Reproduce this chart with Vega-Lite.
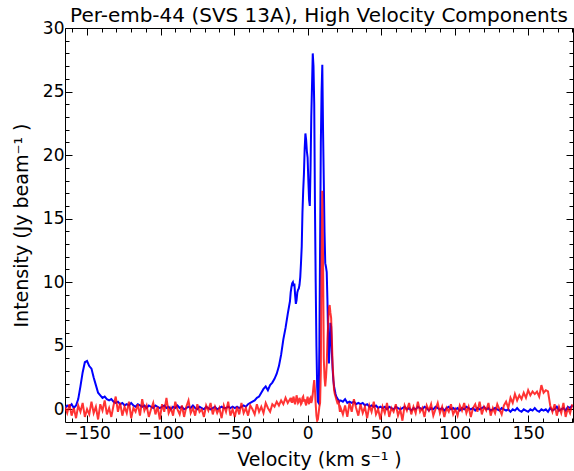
{
  "$schema": "https://vega.github.io/schema/vega-lite/v6.json",
  "width": 508,
  "height": 394,
  "autosize": {"type": "none"},
  "padding": {"left": 65, "top": 28, "right": 1, "bottom": 49},
  "title": {"text": "Per-emb-44 (SVS 13A), High Velocity Components", "font": "DejaVu Sans", "fontSize": 20, "fontWeight": "normal", "color": "black", "anchor": "middle", "offset": -7},
  "config": {
    "view": {"stroke": null},
    "axis": {"domainColor": "black", "domainWidth": 1, "tickColor": "black", "tickWidth": 1, "labelFont": "DejaVu Sans", "titleFont": "DejaVu Sans", "labelFontSize": 17, "titleFontSize": 19, "titleFontWeight": "normal", "labelColor": "black", "titleColor": "black", "grid": false, "labelOverlap": false, "labelFlush": false}
  },
  "data": {"values": [
{"v":-165,"b":0.1,"r":0.2},{"v":-163.5,"b":0.3,"r":-0.3},{"v":-162,"b":0.2,"r":0.4},{"v":-160.5,"b":0.4,"r":-0.5},{"v":-159,"b":0.1,"r":0.1},{"v":-157.5,"b":0.3,"r":-0.7},{"v":-156,"b":0.8,"r":0.3},{"v":-154.5,"b":1.8,"r":-0.2},{"v":-153,"b":2.9,"r":0.5},{"v":-151.5,"b":3.7,"r":-0.6},
{"v":-150,"b":3.8,"r":0.0},{"v":-148.5,"b":3.4,"r":-0.4},{"v":-147,"b":3.2,"r":0.6},{"v":-145.5,"b":2.5,"r":-0.3},{"v":-144,"b":1.9,"r":0.2},{"v":-142.5,"b":1.3,"r":-0.8},{"v":-141,"b":1.1,"r":0.4},{"v":-139.5,"b":0.9,"r":-0.1},{"v":-138,"b":1.0,"r":0.7},{"v":-136.5,"b":0.8,"r":-0.4},
{"v":-135,"b":0.7,"r":0.1},{"v":-133.5,"b":0.8,"r":-0.6},{"v":-132,"b":0.6,"r":0.3},{"v":-130.5,"b":0.5,"r":1.0},{"v":-129,"b":0.6,"r":-0.2},{"v":-127.5,"b":0.4,"r":0.5},{"v":-126,"b":0.5,"r":-0.5},{"v":-124.5,"b":0.3,"r":0.2},{"v":-123,"b":0.4,"r":-0.3},{"v":-121.5,"b":0.3,"r":0.6},
{"v":-120,"b":0.5,"r":-0.7},{"v":-118.5,"b":0.3,"r":0.1},{"v":-117,"b":0.2,"r":-0.2},{"v":-115.5,"b":0.4,"r":0.4},{"v":-114,"b":0.3,"r":-0.5},{"v":-112.5,"b":0.2,"r":0.8},{"v":-111,"b":0.3,"r":-0.1},{"v":-109.5,"b":0.1,"r":0.3},{"v":-108,"b":0.3,"r":-0.6},{"v":-106.5,"b":0.2,"r":0.0},
{"v":-105,"b":0.1,"r":0.5},{"v":-103.5,"b":0.3,"r":-0.4},{"v":-102,"b":0.2,"r":0.2},{"v":-100.5,"b":0.1,"r":-0.8},{"v":-99,"b":0.2,"r":0.4},{"v":-97.5,"b":0.3,"r":-0.2},{"v":-96,"b":0.1,"r":0.9},{"v":-94.5,"b":0.2,"r":-0.3},{"v":-93,"b":0.0,"r":0.1},{"v":-91.5,"b":0.2,"r":-0.5},
{"v":-90,"b":0.1,"r":0.6},{"v":-88.5,"b":0.3,"r":0.0},{"v":-87,"b":0.1,"r":-0.4},{"v":-85.5,"b":0.2,"r":0.3},{"v":-84,"b":0.0,"r":-0.6},{"v":-82.5,"b":0.1,"r":0.2},{"v":-81,"b":0.2,"r":0.7},{"v":-79.5,"b":0.1,"r":-0.3},{"v":-78,"b":0.3,"r":0.1},{"v":-76.5,"b":0.1,"r":-0.5},
{"v":-75,"b":0.0,"r":0.4},{"v":-73.5,"b":0.2,"r":-0.2},{"v":-72,"b":0.1,"r":0.0},{"v":-70.5,"b":0.0,"r":-0.6},{"v":-69,"b":0.2,"r":0.3},{"v":-67.5,"b":0.1,"r":-0.1},{"v":-66,"b":0.0,"r":0.5},{"v":-64.5,"b":0.1,"r":-0.4},{"v":-63,"b":0.2,"r":0.2},{"v":-61.5,"b":0.0,"r":-0.3},
{"v":-60,"b":0.1,"r":0.1},{"v":-58.5,"b":0.2,"r":-0.7},{"v":-57,"b":0.1,"r":0.3},{"v":-55.5,"b":0.1,"r":-0.2},{"v":-54,"b":0.2,"r":0.6},{"v":-52.5,"b":0.1,"r":-0.5},{"v":-51,"b":0.2,"r":0.0},{"v":-49.5,"b":0.1,"r":-0.6},{"v":-48,"b":0.2,"r":0.2},{"v":-46.5,"b":0.1,"r":-0.4},
{"v":-45,"b":0.2,"r":0.5},{"v":-43.5,"b":0.3,"r":-0.3},{"v":-42,"b":0.2,"r":0.1},{"v":-40.5,"b":0.4,"r":-0.5},{"v":-39,"b":0.5,"r":0.3},{"v":-37.5,"b":0.6,"r":0.0},{"v":-36,"b":0.7,"r":-0.4},{"v":-34.5,"b":0.9,"r":0.4},{"v":-33,"b":1.0,"r":-0.2},{"v":-31.5,"b":1.3,"r":0.2},
{"v":-30,"b":1.6,"r":-0.3},{"v":-28.5,"b":1.8,"r":0.5},{"v":-27,"b":1.5,"r":0.1},{"v":-25.5,"b":1.9,"r":-0.2},{"v":-24,"b":2.1,"r":0.4},{"v":-22.5,"b":2.4,"r":0.2},{"v":-21,"b":2.8,"r":0.6},{"v":-19.5,"b":3.4,"r":0.3},{"v":-18,"b":4.3,"r":0.7},{"v":-16.5,"b":5.5,"r":0.4},
{"v":-15,"b":6.4,"r":0.9},{"v":-13.5,"b":7.5,"r":0.5},{"v":-12,"b":8.5,"r":0.8},
{"v":-11.5,"b":9.2,"r":0.7},{"v":-11,"b":9.6,"r":0.9},{"v":-10.5,"b":9.9,"r":0.5},{"v":-10,"b":10.0,"r":0.8},{"v":-9.5,"b":9.7,"r":1.0},{"v":-9,"b":9.9,"r":0.6},{"v":-8.5,"b":9.0,"r":0.4},{"v":-8,"b":8.3,"r":0.7},{"v":-7.5,"b":8.6,"r":1.1},{"v":-7,"b":9.2,"r":0.8},
{"v":-6.5,"b":9.4,"r":0.5},{"v":-6,"b":9.5,"r":0.6},{"v":-5.5,"b":9.8,"r":0.9},{"v":-5,"b":10.4,"r":0.7},{"v":-4.5,"b":11.5,"r":0.4},{"v":-4,"b":12.8,"r":0.5},{"v":-3.5,"b":15.5,"r":0.9},{"v":-3,"b":17.2,"r":1.0},{"v":-2.5,"b":18.5,"r":0.6},{"v":-2,"b":20.5,"r":0.8},
{"v":-1.5,"b":21.7,"r":0.5},{"v":-1,"b":21.2,"r":0.3},{"v":-0.5,"b":20.3,"r":0.7},{"v":0,"b":19.8,"r":1.0},{"v":0.5,"b":18.0,"r":0.6},{"v":1,"b":16.5,"r":0.4},{"v":1.5,"b":16.0,"r":0.8},{"v":2,"b":19.0,"r":0.9},{"v":2.5,"b":23.0,"r":0.5},{"v":3,"b":25.5,"r":0.7},
{"v":3.5,"b":28.0,"r":1.2},{"v":4,"b":27.0,"r":1.8},{"v":4.5,"b":24.0,"r":2.3},{"v":5,"b":16.0,"r":1.5},{"v":5.5,"b":10.0,"r":0.4},{"v":6,"b":5.0,"r":-0.5},{"v":6.5,"b":1.8,"r":-0.9},{"v":7,"b":0.6,"r":-0.8},{"v":7.5,"b":0.5,"r":-0.3},{"v":8,"b":5.0,"r":0.2},
{"v":8.5,"b":13.0,"r":0.5},{"v":9,"b":21.0,"r":3.0},{"v":9.5,"b":25.0,"r":12.0},{"v":10,"b":27.1,"r":17.2},{"v":10.5,"b":22.0,"r":12.0},{"v":11,"b":18.0,"r":4.0},{"v":11.5,"b":14.0,"r":2.5},{"v":12,"b":11.5,"r":1.8},{"v":12.5,"b":11.2,"r":2.5},{"v":13,"b":10.8,"r":3.5},
{"v":13.5,"b":8.5,"r":5.5},{"v":14,"b":5.5,"r":6.8},{"v":14.5,"b":3.6,"r":8.0},{"v":15,"b":5.0,"r":8.2},{"v":15.5,"b":6.8,"r":7.6},{"v":16,"b":6.5,"r":7.2},{"v":16.5,"b":4.5,"r":5.5},{"v":17,"b":3.2,"r":3.5},{"v":17.5,"b":2.3,"r":2.5},{"v":18,"b":1.8,"r":1.5},
{"v":18.5,"b":1.5,"r":1.2},{"v":19,"b":1.2,"r":1.0},{"v":19.5,"b":1.0,"r":0.8},{"v":20,"b":0.9,"r":0.6},{"v":20.5,"b":0.8,"r":0.4},{"v":21,"b":0.7,"r":0.7},{"v":21.5,"b":0.6,"r":0.2},{"v":22,"b":0.7,"r":-0.2},
{"v":22.5,"b":0.7,"r":0.1},{"v":24,"b":0.6,"r":-0.4},{"v":25.5,"b":0.8,"r":0.3},{"v":27,"b":0.5,"r":-0.6},{"v":28.5,"b":0.6,"r":0.5},{"v":30,"b":0.5,"r":-0.2},{"v":31.5,"b":0.6,"r":0.8},{"v":33,"b":0.4,"r":0.1},{"v":34.5,"b":0.5,"r":-0.5},{"v":36,"b":0.4,"r":0.4},
{"v":37.5,"b":0.5,"r":-0.3},{"v":39,"b":0.3,"r":0.2},{"v":40.5,"b":0.4,"r":-0.7},{"v":42,"b":0.2,"r":0.3},{"v":43.5,"b":0.3,"r":-0.2},{"v":45,"b":0.2,"r":0.6},{"v":46.5,"b":0.3,"r":-0.4},{"v":48,"b":0.1,"r":0.0},{"v":49.5,"b":0.2,"r":-0.8},{"v":51,"b":0.1,"r":0.2},
{"v":52.5,"b":0.2,"r":-0.3},{"v":54,"b":0.0,"r":0.5},{"v":55.5,"b":0.2,"r":-0.6},{"v":57,"b":0.1,"r":0.1},{"v":58.5,"b":0.0,"r":-0.2},{"v":60,"b":0.2,"r":0.4},{"v":61.5,"b":0.1,"r":-0.5},{"v":63,"b":0.0,"r":0.0},{"v":64.5,"b":0.1,"r":-0.9},{"v":66,"b":0.2,"r":0.3},
{"v":67.5,"b":0.0,"r":-0.1},{"v":69,"b":0.1,"r":0.5},{"v":70.5,"b":-0.1,"r":-0.4},{"v":72,"b":0.1,"r":0.2},{"v":73.5,"b":0.0,"r":-0.3},{"v":75,"b":0.2,"r":0.6},{"v":76.5,"b":0.1,"r":-0.2},{"v":78,"b":0.0,"r":0.1},{"v":79.5,"b":0.2,"r":-0.6},{"v":81,"b":0.1,"r":0.3},
{"v":82.5,"b":-0.1,"r":-0.1},{"v":84,"b":0.1,"r":0.4},{"v":85.5,"b":0.0,"r":-0.5},{"v":87,"b":0.2,"r":0.0},{"v":88.5,"b":0.1,"r":0.5},{"v":90,"b":0.0,"r":-0.3},{"v":91.5,"b":0.1,"r":0.2},{"v":93,"b":-0.1,"r":-0.6},{"v":94.5,"b":0.1,"r":0.1},{"v":96,"b":0.2,"r":-0.2},
{"v":97.5,"b":0.0,"r":0.4},{"v":99,"b":0.1,"r":-0.4},{"v":100.5,"b":0.0,"r":0.0},{"v":102,"b":0.1,"r":-0.5},{"v":103.5,"b":-0.1,"r":0.3},{"v":105,"b":0.1,"r":-0.1},{"v":106.5,"b":0.0,"r":0.5},{"v":108,"b":0.2,"r":-0.3},{"v":109.5,"b":0.1,"r":0.2},{"v":111,"b":0.0,"r":-0.6},
{"v":112.5,"b":0.1,"r":0.1},{"v":114,"b":-0.1,"r":0.4},{"v":115.5,"b":0.1,"r":-0.2},{"v":117,"b":0.0,"r":0.6},{"v":118.5,"b":0.1,"r":-0.4},{"v":120,"b":0.2,"r":0.2},{"v":121.5,"b":0.0,"r":-0.1},{"v":123,"b":0.1,"r":0.5},{"v":124.5,"b":-0.1,"r":-0.5},{"v":126,"b":0.0,"r":0.1},
{"v":127.5,"b":0.1,"r":-0.3},{"v":129,"b":0.0,"r":0.4},{"v":130.5,"b":-0.1,"r":0.0},{"v":132,"b":0.1,"r":-0.4},{"v":133.5,"b":0.0,"r":0.3},{"v":135,"b":-0.1,"r":0.6},{"v":136.5,"b":0.0,"r":0.1},{"v":138,"b":-0.2,"r":0.9},{"v":139.5,"b":0.0,"r":0.5},{"v":141,"b":-0.1,"r":1.2},
{"v":142.5,"b":0.1,"r":0.7},{"v":144,"b":-0.1,"r":1.1},{"v":145.5,"b":-0.2,"r":0.8},{"v":147,"b":0.0,"r":1.3},{"v":148.5,"b":-0.1,"r":0.9},{"v":150,"b":-0.2,"r":1.5},{"v":151.5,"b":0.0,"r":1.1},{"v":153,"b":-0.1,"r":1.4},{"v":154.5,"b":0.1,"r":1.2},{"v":156,"b":-0.1,"r":1.4},
{"v":157.5,"b":-0.2,"r":1.0},{"v":159,"b":0.0,"r":1.9},{"v":160.5,"b":-0.1,"r":1.3},{"v":162,"b":0.0,"r":1.5},{"v":163.5,"b":-0.2,"r":1.4},{"v":165,"b":0.1,"r":0.3},{"v":166.5,"b":-0.1,"r":-0.2},{"v":168,"b":0.0,"r":0.4},{"v":169.5,"b":0.2,"r":-0.5},{"v":171,"b":-0.1,"r":0.2},
{"v":172.5,"b":0.0,"r":-0.3},{"v":174,"b":0.1,"r":0.5},{"v":175.5,"b":-0.1,"r":-0.6},{"v":177,"b":0.2,"r":0.1},{"v":178.5,"b":0.1,"r":-0.3},{"v":180,"b":0.3,"r":0.4}
  ]},
  "layer": [
    {
      "mark": {"type": "line", "color": "#0000ff", "strokeWidth": 2, "clip": true},
      "encoding": {
        "x": {"field": "v", "type": "quantitative", "scale": {"domain": [-165, 180.5], "nice": false, "zero": false},
          "axis": {"orient": "bottom", "title": "Velocity (km s⁻¹ )", "values": [-160,-150,-140,-130,-120,-110,-100,-90,-80,-70,-60,-50,-40,-30,-20,-10,0,10,20,30,40,50,60,70,80,90,100,110,120,130,140,150,160,170,180],
            "labelExpr": "datum.value % 50 === 0 ? datum.label : ''",
            "tickSize": {"condition": {"test": "datum.value % 50 === 0", "value": -7}, "value": -4},
            "labelPadding": 10, "titlePadding": 6}},
        "y": {"field": "b", "type": "quantitative", "scale": {"domain": [-1, 30], "nice": false, "zero": false},
          "axis": {"orient": "left", "title": "Intensity (Jy beam⁻¹ )", "values": [0,1,2,3,4,5,6,7,8,9,10,11,12,13,14,15,16,17,18,19,20,21,22,23,24,25,26,27,28,29,30],
            "labelExpr": "datum.value % 5 === 0 ? datum.label : ''",
            "tickSize": {"condition": {"test": "datum.value % 5 === 0", "value": -7}, "value": -4},
            "labelPadding": 8, "titlePadding": 11}}
      }
    },
    {
      "mark": {"type": "line", "color": "#ff0000", "opacity": 0.8, "strokeWidth": 2, "clip": true},
      "encoding": {
        "x": {"field": "v", "type": "quantitative",
          "axis": {"orient": "top", "title": null, "labels": false, "values": [-160,-150,-140,-130,-120,-110,-100,-90,-80,-70,-60,-50,-40,-30,-20,-10,0,10,20,30,40,50,60,70,80,90,100,110,120,130,140,150,160,170,180],
            "tickSize": {"condition": {"test": "datum.value % 50 === 0", "value": -7}, "value": -4}}},
        "y": {"field": "r", "type": "quantitative",
          "axis": {"orient": "right", "title": null, "labels": false, "values": [0,1,2,3,4,5,6,7,8,9,10,11,12,13,14,15,16,17,18,19,20,21,22,23,24,25,26,27,28,29,30],
            "tickSize": {"condition": {"test": "datum.value % 5 === 0", "value": -7}, "value": -4}}}
      }
    }
  ],
  "resolve": {"axis": {"x": "independent", "y": "independent"}}
}
